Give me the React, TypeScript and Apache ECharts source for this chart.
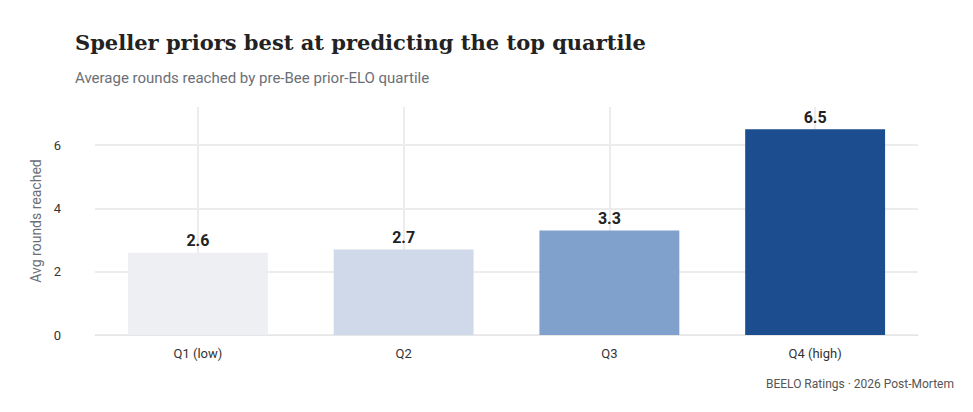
import { useEffect, useRef } from 'react';
import * as echarts from 'echarts';

const categories = ['Q1 (low)', 'Q2', 'Q3', 'Q4 (high)'];
const values = [2.6, 2.7, 3.3, 6.5];
const barColors = ['#eeeff2', '#d0d9ea', '#7fa1cb', '#1c4d8e'];

export default function App() {
  const ref = useRef<HTMLDivElement>(null);

  useEffect(() => {
    if (!ref.current) return;
    const chart = echarts.init(ref.current, null, { renderer: 'svg' });
    chart.setOption({
      animation: false,
      backgroundColor: '#fff',
      textStyle: { fontFamily: 'Roboto' },
      title: [
        {
          text: 'Speller priors best at predicting the top quartile',
          left: 62,
          top: 19,
          textStyle: { fontFamily: 'DejaVu Serif', fontWeight: 'bold', fontSize: 21, color: '#222' },
        },
        {
          text: 'Average rounds reached by pre-Bee prior-ELO quartile',
          left: 62,
          top: 57,
          textStyle: { fontSize: 15, fontWeight: 'normal', color: '#6b6f76' },
        },
        {
          text: 'BEELO Ratings · 2026 Post-Mortem',
          right: 6,
          top: 365,
          textStyle: { fontSize: 12, fontWeight: 'normal', color: '#555' },
        },
      ],
      grid: { left: 87, right: 47, top: 99, bottom: 69 },
      xAxis: {
        type: 'category',
        data: categories,
        axisLine: { lineStyle: { color: '#e6e6e6' } },
        axisTick: { show: false },
        axisLabel: { color: '#333', fontSize: 13, margin: 12 },
      },
      yAxis: {
        type: 'value',
        min: 0,
        max: 7.2,
        interval: 2,
        name: 'Avg rounds reached',
        nameLocation: 'middle',
        nameGap: 44,
        nameTextStyle: { color: '#6b6f76', fontSize: 14 },
        axisLabel: { color: '#333', fontSize: 13, margin: 34, showMaxLabel: false },
        splitLine: {
          lineStyle: {
            color: ['#ececec', '#ececec', '#ececec', '#ececec', 'rgba(0,0,0,0)'],
            width: 2,
          },
        },
      },
      series: [
        {
          type: 'bar',
          barWidth: '68%',
          data: values.map((v, i) => ({ value: v, itemStyle: { color: barColors[i] } })),
          label: {
            show: true,
            position: 'top',
            formatter: (p: any) => p.value.toFixed(1),
            fontSize: 16,
            fontWeight: 'bold',
            color: '#222',
            distance: 4,
          },
          markLine: {
            silent: true,
            symbol: ['none', 'none'],
            label: { show: false },
            lineStyle: { color: '#ececec', width: 2, type: 'solid' },
            data: categories.map((c) => ({ xAxis: c })),
            z: 0,
          },
          z: 2,
        },
      ],
    });
    return () => chart.dispose();
  }, []);

  return <div ref={ref} style={{ width: 957, height: 396 }} />;
}
